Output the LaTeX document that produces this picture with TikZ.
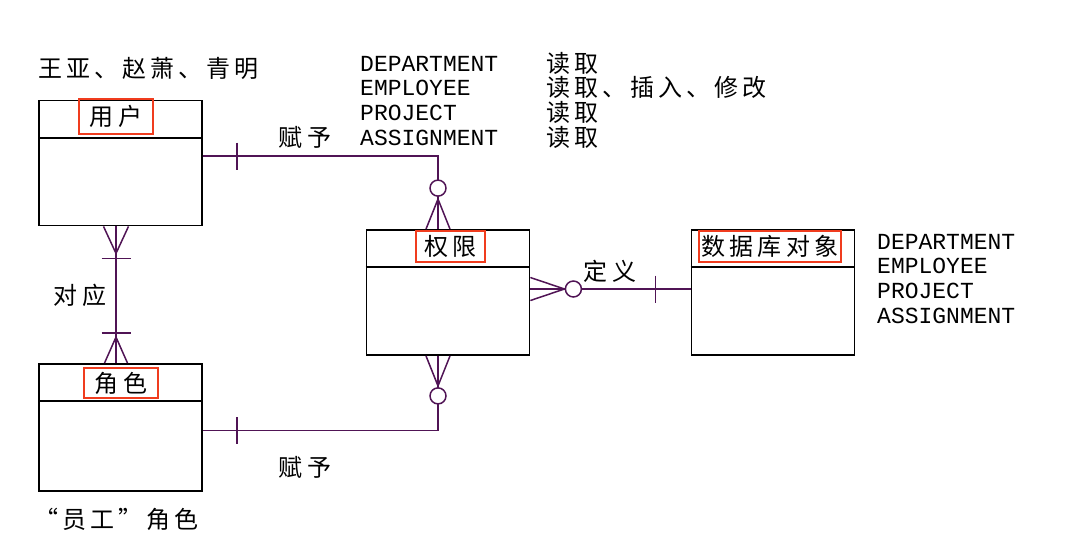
\documentclass[tikz,border=0pt]{standalone}
\usepackage{fontspec}
\newfontfamily\cjk[LetterSpace=17]{Noto Sans CJK SC}
\newfontfamily\objfont{Liberation Mono}
\definecolor{boxred}{RGB}{240,60,30}
\definecolor{relpurple}{RGB}{80,20,85}

\begin{document}
\begin{tikzpicture}[x=1pt,y=-1pt,
  entity/.style={draw,line width=1.8pt,minimum width=163pt,minimum height=125pt,inner sep=0pt},
  title/.style={draw=boxred,line width=2.2pt,inner sep=0pt,font=\cjk\fontsize{24}{26}\selectfont},
  rel/.style={draw=relpurple,line width=1.5pt},
  cn/.style={inner sep=0pt,font=\cjk\fontsize{24}{26}\selectfont},
  en/.style={inner sep=0pt,font=\objfont\fontsize{23}{25}\selectfont}]
  \useasboundingbox (0,0) rectangle (1076,544);
  % entities
  \node[entity] (user) at (120.5,163) {};
  \node[entity,minimum height=127pt] (role) at (120.5,427.5) {};
  \node[entity] (perm) at (448,292.5) {};
  \node[entity] (dbobj) at (773,292.5) {};
  \foreach \n in {user,role,perm,dbobj}
    \draw[line width=1.8pt] ([yshift=-38pt]\n.north west) -- ([yshift=-38pt]\n.north east);
  % titles
  \node[title,minimum width=74pt,minimum height=35pt] (usert) at (116,116.5) {用户};
  \node[title,minimum width=74pt,minimum height=30pt] (rolet) at (121,383) {角色};
  \node[title,minimum width=69pt,minimum height=31pt] (permt) at (450.5,246.5) {权限};
  \node[title,minimum width=142pt,minimum height=31pt] (dbobjt) at (770,246.5) {数据库对象};
  % relationships
  \coordinate (up) at ([xshift=-10pt]perm.north);
  \coordinate (dn) at ([xshift=-10pt]perm.south);
  \draw[rel] ([yshift=7pt]user.east) -| (up);
  \draw[rel] ([yshift=-3pt]role.east) -| (dn);
  \draw[rel] ([xshift=-4.5pt]user.south) -- ([xshift=-4.5pt]role.north);
  \draw[rel] ([yshift=3.5pt]perm.east) -- ([yshift=3.5pt]dbobj.west);
  % bars
  \draw[rel] ([yshift=7pt]user.east) ++(34,-13.5) -- ++(0,27);
  \draw[rel] ([yshift=-3pt]role.east) ++(34,-13.5) -- ++(0,27);
  \draw[rel] ([yshift=3.5pt]dbobj.west) ++(-35,-13.5) -- ++(0,27);
  \draw[rel] ([xshift=-4.5pt]user.south) ++(-14.5,32) -- ++(29,0);
  \draw[rel] ([xshift=-4.5pt]role.north) ++(-14.5,-30) -- ++(29,0);
  % crow's feet
  \draw[rel] (up) ++(-12,0) -- ++(12,-30) -- ++(12,30);
  \draw[rel] (dn) ++(-12,0) -- ++(12,30) -- ++(12,-30);
  \draw[rel] ([xshift=-4.5pt]user.south) ++(-12.5,0) -- ++(12.5,27) -- ++(12.5,-27);
  \draw[rel] ([xshift=-4.5pt]role.north) ++(-11.5,0) -- ++(11.5,-26) -- ++(11.5,26);
  \draw[rel] ([yshift=3.5pt]perm.east) ++(0,-11.5) -- ++(34,11.5) -- ++(-34,11.5);
  % circles
  \draw[rel,fill=white] (up) ++(0,-41) circle (8);
  \draw[rel,fill=white] (dn) ++(0,40) circle (8);
  \draw[rel,fill=white] ([yshift=3.5pt]perm.east) ++(43,0) circle (8);
  % labels
  \node[cn] (give1) at (305,137) {赋予};
  \node[cn] (give2) at (305,467) {赋予};
  \node[cn] (define) at (610,271) {定义};
  \node[cn] (match) at (80,295) {对应};
  \node[cn,anchor=west] (users) at (38,68) {王亚、赵萧、青明};
  \node[cn,anchor=west] (staff) at (34,519) {“员工”角色};
  % access table
  \foreach \obj/\op [count=\i] in {DEPARTMENT/读取,EMPLOYEE/读取、插入、修改,PROJECT/读取,ASSIGNMENT/读取} {
    \node[en,anchor=base west] (obj\i) at (360,46.5+24.7*\i) {\obj};
    \node[cn,anchor=base west] (op\i) at (546,47.5+24.7*\i) {\op};
  }
  \foreach \obj [count=\i] in {DEPARTMENT,EMPLOYEE,PROJECT,ASSIGNMENT}
    \node[en,anchor=base west] (dbo\i) at (877,224.5+24.7*\i) {\obj};
\end{tikzpicture}
\end{document}
